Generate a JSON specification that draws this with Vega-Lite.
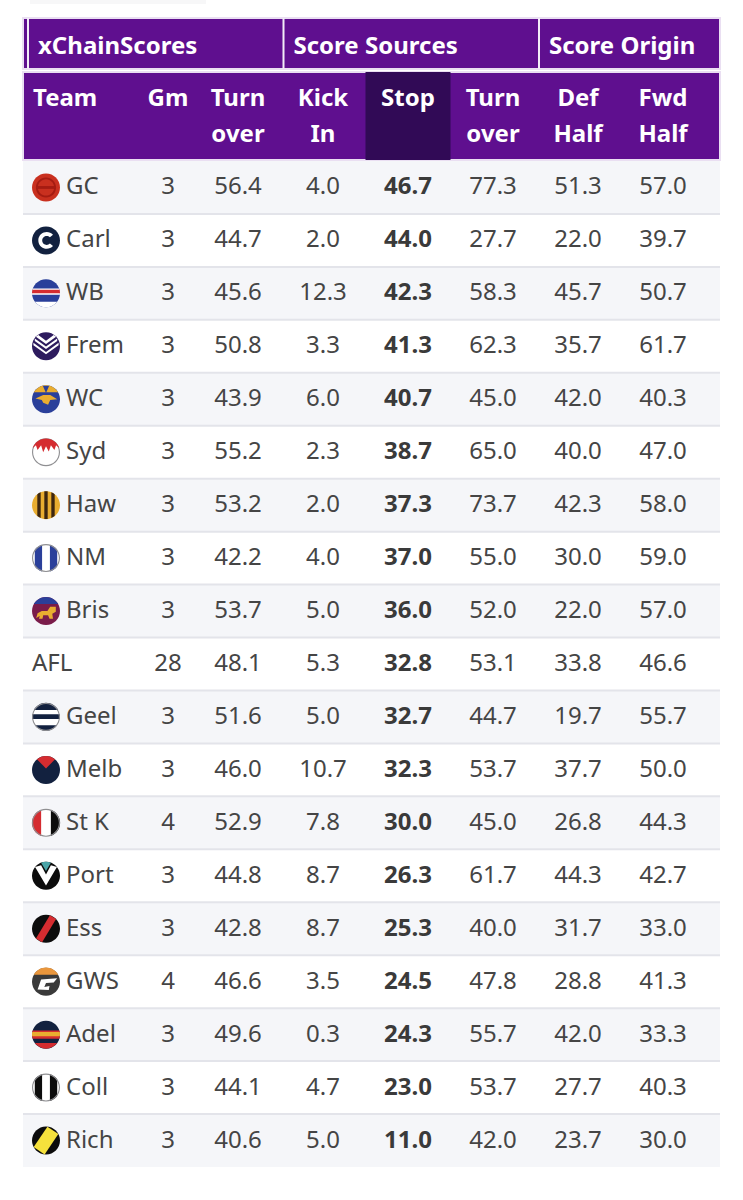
{
  "$schema": "https://vega.github.io/schema/vega-lite/v6.json",
  "padding": {"left": 22, "right": 23, "top": 0, "bottom": 0},
  "background": "white",
  "spacing": 0,
  "config": {"view": {"stroke": null}, "text": {"font": "Noto Sans", "fontSize": 24, "color": "#454545"}},
  "datasets": {
    "heads": [
      {"col": "Team", "line": "1", "label": "Team"},
      {"col": "Gm", "line": "1", "label": "Gm"},
      {"col": "Turnover", "line": "1", "label": "Turn"},
      {"col": "Turnover", "line": "2", "label": "over"},
      {"col": "Kick In", "line": "1", "label": "Kick"},
      {"col": "Kick In", "line": "2", "label": "In"},
      {"col": "Stop", "line": "1", "label": "Stop"},
      {"col": "Sources Turnover", "line": "1", "label": "Turn"},
      {"col": "Sources Turnover", "line": "2", "label": "over"},
      {"col": "Def Half", "line": "1", "label": "Def"},
      {"col": "Def Half", "line": "2", "label": "Half"},
      {"col": "Fwd Half", "line": "1", "label": "Fwd"},
      {"col": "Fwd Half", "line": "2", "label": "Half"}
    ],
    "teams": [
      {"team": "GC", "Gm": 3, "Turnover": 56.4, "Kick In": 4.0, "Stop": 46.7, "Sources Turnover": 77.3, "Def Half": 51.3, "Fwd Half": 57.0},
      {"team": "Carl", "Gm": 3, "Turnover": 44.7, "Kick In": 2.0, "Stop": 44.0, "Sources Turnover": 27.7, "Def Half": 22.0, "Fwd Half": 39.7},
      {"team": "WB", "Gm": 3, "Turnover": 45.6, "Kick In": 12.3, "Stop": 42.3, "Sources Turnover": 58.3, "Def Half": 45.7, "Fwd Half": 50.7},
      {"team": "Frem", "Gm": 3, "Turnover": 50.8, "Kick In": 3.3, "Stop": 41.3, "Sources Turnover": 62.3, "Def Half": 35.7, "Fwd Half": 61.7},
      {"team": "WC", "Gm": 3, "Turnover": 43.9, "Kick In": 6.0, "Stop": 40.7, "Sources Turnover": 45.0, "Def Half": 42.0, "Fwd Half": 40.3},
      {"team": "Syd", "Gm": 3, "Turnover": 55.2, "Kick In": 2.3, "Stop": 38.7, "Sources Turnover": 65.0, "Def Half": 40.0, "Fwd Half": 47.0},
      {"team": "Haw", "Gm": 3, "Turnover": 53.2, "Kick In": 2.0, "Stop": 37.3, "Sources Turnover": 73.7, "Def Half": 42.3, "Fwd Half": 58.0},
      {"team": "NM", "Gm": 3, "Turnover": 42.2, "Kick In": 4.0, "Stop": 37.0, "Sources Turnover": 55.0, "Def Half": 30.0, "Fwd Half": 59.0},
      {"team": "Bris", "Gm": 3, "Turnover": 53.7, "Kick In": 5.0, "Stop": 36.0, "Sources Turnover": 52.0, "Def Half": 22.0, "Fwd Half": 57.0},
      {"team": "AFL", "Gm": 28, "Turnover": 48.1, "Kick In": 5.3, "Stop": 32.8, "Sources Turnover": 53.1, "Def Half": 33.8, "Fwd Half": 46.6},
      {"team": "Geel", "Gm": 3, "Turnover": 51.6, "Kick In": 5.0, "Stop": 32.7, "Sources Turnover": 44.7, "Def Half": 19.7, "Fwd Half": 55.7},
      {"team": "Melb", "Gm": 3, "Turnover": 46.0, "Kick In": 10.7, "Stop": 32.3, "Sources Turnover": 53.7, "Def Half": 37.7, "Fwd Half": 50.0},
      {"team": "St K", "Gm": 4, "Turnover": 52.9, "Kick In": 7.8, "Stop": 30.0, "Sources Turnover": 45.0, "Def Half": 26.8, "Fwd Half": 44.3},
      {"team": "Port", "Gm": 3, "Turnover": 44.8, "Kick In": 8.7, "Stop": 26.3, "Sources Turnover": 61.7, "Def Half": 44.3, "Fwd Half": 42.7},
      {"team": "Ess", "Gm": 3, "Turnover": 42.8, "Kick In": 8.7, "Stop": 25.3, "Sources Turnover": 40.0, "Def Half": 31.7, "Fwd Half": 33.0},
      {"team": "GWS", "Gm": 4, "Turnover": 46.6, "Kick In": 3.5, "Stop": 24.5, "Sources Turnover": 47.8, "Def Half": 28.8, "Fwd Half": 41.3},
      {"team": "Adel", "Gm": 3, "Turnover": 49.6, "Kick In": 0.3, "Stop": 24.3, "Sources Turnover": 55.7, "Def Half": 42.0, "Fwd Half": 33.3},
      {"team": "Coll", "Gm": 3, "Turnover": 44.1, "Kick In": 4.7, "Stop": 23.0, "Sources Turnover": 53.7, "Def Half": 27.7, "Fwd Half": 40.3},
      {"team": "Rich", "Gm": 3, "Turnover": 40.6, "Kick In": 5.0, "Stop": 11.0, "Sources Turnover": 42.0, "Def Half": 23.7, "Fwd Half": 30.0}
    ],
    "logos": [
      {"team": "GC", "part": "disc", "tone": "gc red"},
      {"team": "GC", "part": "ring", "tone": "gc dark"},
      {"team": "GC", "part": "bar", "tone": "gc dark"},
      {"team": "Carl", "part": "disc", "tone": "navy"},
      {"team": "Carl", "part": "c", "tone": "white"},
      {"team": "WB", "part": "disc", "tone": "blue"},
      {"team": "WB", "part": "wide band", "tone": "white"},
      {"team": "WB", "part": "thin band", "tone": "red"},
      {"team": "WB", "part": "low cap", "tone": "white"},
      {"team": "Frem", "part": "disc", "tone": "purple"},
      {"team": "Frem", "part": "chevrons", "tone": "white"},
      {"team": "WC", "part": "disc", "tone": "blue"},
      {"team": "WC", "part": "high cap", "tone": "gold"},
      {"team": "WC", "part": "notch", "tone": "blue"},
      {"team": "WC", "part": "eagle", "tone": "gold"},
      {"team": "Syd", "part": "disc", "tone": "white"},
      {"team": "Syd", "part": "rim", "tone": "grey"},
      {"team": "Syd", "part": "jagged", "tone": "red"},
      {"team": "Haw", "part": "disc", "tone": "gold"},
      {"team": "Haw", "part": "three stripes", "tone": "brown"},
      {"team": "NM", "part": "disc", "tone": "white"},
      {"team": "NM", "part": "two stripes", "tone": "blue"},
      {"team": "NM", "part": "rim", "tone": "grey"},
      {"team": "Bris", "part": "disc", "tone": "maroon"},
      {"team": "Bris", "part": "high cap", "tone": "blue"},
      {"team": "Bris", "part": "lion", "tone": "gold"},
      {"team": "Geel", "part": "disc", "tone": "white"},
      {"team": "Geel", "part": "high cap", "tone": "navy"},
      {"team": "Geel", "part": "mid band", "tone": "navy"},
      {"team": "Geel", "part": "low cap", "tone": "navy"},
      {"team": "Geel", "part": "rim", "tone": "grey"},
      {"team": "Melb", "part": "disc", "tone": "navy"},
      {"team": "Melb", "part": "v top", "tone": "red"},
      {"team": "St K", "part": "disc", "tone": "white"},
      {"team": "St K", "part": "left side", "tone": "red"},
      {"team": "St K", "part": "right side", "tone": "black"},
      {"team": "St K", "part": "rim", "tone": "grey"},
      {"team": "Port", "part": "disc", "tone": "black"},
      {"team": "Port", "part": "big v", "tone": "white"},
      {"team": "Port", "part": "teal top", "tone": "teal"},
      {"team": "Ess", "part": "disc", "tone": "black"},
      {"team": "Ess", "part": "thin sash", "tone": "red"},
      {"team": "GWS", "part": "disc", "tone": "charcoal"},
      {"team": "GWS", "part": "high cap", "tone": "orange"},
      {"team": "GWS", "part": "g", "tone": "white"},
      {"team": "Adel", "part": "disc", "tone": "navy"},
      {"team": "Adel", "part": "centre band", "tone": "red"},
      {"team": "Adel", "part": "thin band low", "tone": "gold"},
      {"team": "Adel", "part": "low cap", "tone": "red"},
      {"team": "Coll", "part": "disc", "tone": "white"},
      {"team": "Coll", "part": "two stripes", "tone": "black"},
      {"team": "Coll", "part": "rim", "tone": "grey"},
      {"team": "Rich", "part": "disc", "tone": "black"},
      {"team": "Rich", "part": "wide sash", "tone": "yellow"}
    ]
  },
  "vconcat": [
    {
      "width": 697,
      "height": 14,
      "data": {"values": [{"row": "strip", "col": "Gm"}]},
      "mark": {"type": "rect", "width": 176, "color": "#f7f7f8", "xOffset": -35},
      "encoding": {
        "x": {"field": "col", "type": "nominal", "axis": null, "scale": {"type": "point", "padding": 0, "domain": ["Team", "Gm"], "range": [45, 130]}},
        "y": {"field": "row", "type": "nominal", "axis": null, "scale": {"type": "band", "padding": 0, "domain": ["strip", "a", "b", "c"], "range": [-2, 14]}}
      }
    },
    {
      "width": 697,
      "height": 51,
      "view": {"fill": "#5f0f8f", "stroke": "#eadff2", "strokeWidth": 2},
      "data": {"values": [{"group": "xChainScores"}, {"group": "Score Sources"}, {"group": "Score Origin"}]},
      "encoding": {
        "x": {"field": "group", "type": "nominal", "axis": null, "scale": {"type": "point", "padding": 0, "domain": ["xChainScores", "Score Sources", "Score Origin"], "range": [15, 526]}}
      },
      "layer": [
        {"mark": {"type": "rule", "color": "#f2ecf7", "strokeWidth": 2, "xOffset": -10}},
        {
          "mark": {"type": "text", "align": "left", "baseline": "middle", "fontWeight": "bold", "fontSize": 24, "color": "white", "dy": 3},
          "encoding": {"text": {"field": "group"}}
        }
      ]
    },
    {
      "width": 697,
      "height": 88,
      "view": {"fill": "#5f0f8f", "stroke": "#eadff2", "strokeWidth": 2},
      "data": {"name": "heads"},
      "encoding": {
        "x": {"field": "col", "type": "nominal", "axis": null, "scale": {"type": "point", "padding": 0, "domain": ["Team", "Gm", "Turnover", "Kick In", "Stop", "Sources Turnover", "Def Half", "Fwd Half"], "range": [45, 640]}},
        "y": {"field": "line", "type": "nominal", "axis": null, "scale": {"type": "point", "padding": 0, "domain": ["1", "2"], "range": [27, 63]}}
      },
      "layer": [
        {
          "transform": [{"filter": "datum.col == 'Stop'"}],
          "mark": {"type": "rect", "width": 85, "color": "#310a56"},
          "encoding": {"y": null}
        },
        {
          "transform": [{"filter": "datum.col == 'Team'"}],
          "mark": {"type": "text", "align": "left", "baseline": "middle", "fontWeight": "bold", "fontSize": 24, "color": "white", "dx": -35},
          "encoding": {"text": {"field": "label"}}
        },
        {
          "transform": [{"filter": "datum.col == 'Gm'"}],
          "mark": {"type": "text", "align": "center", "baseline": "middle", "fontWeight": "bold", "fontSize": 24, "color": "white", "dx": 15},
          "encoding": {"text": {"field": "label"}}
        },
        {
          "transform": [{"filter": "datum.col != 'Team' && datum.col != 'Gm'"}],
          "mark": {"type": "text", "align": "center", "baseline": "middle", "fontWeight": "bold", "fontSize": 24, "color": "white"},
          "encoding": {"text": {"field": "label"}}
        }
      ]
    },
    {
      "width": 697,
      "height": 1006,
      "data": {"name": "teams"},
      "encoding": {
        "y": {"field": "team", "type": "nominal", "axis": null, "scale": {"type": "band", "padding": 0, "domain": ["GC", "Carl", "WB", "Frem", "WC", "Syd", "Haw", "NM", "Bris", "AFL", "Geel", "Melb", "St K", "Port", "Ess", "GWS", "Adel", "Coll", "Rich"]}}
      },
      "layer": [
        {
          "transform": [{"filter": {"field": "team", "oneOf": ["GC", "WB", "WC", "Haw", "Bris", "Geel", "St K", "Ess", "Adel", "Rich"]}}],
          "mark": {"type": "rect", "color": "#f5f6f9"}
        },
        {
          "transform": [{"filter": "datum.team != 'Rich'"}],
          "mark": {"type": "rule", "color": "#e3e4ea", "strokeWidth": 2},
          "encoding": {"y": {"field": "team", "type": "nominal", "axis": null, "bandPosition": 1}}
        },
        {
          "data": {"name": "logos"},
          "mark": {"type": "point", "filled": true, "opacity": 1, "size": 784, "xOffset": -22},
          "encoding": {
            "x": {"datum": "Team", "scale": {"type": "point", "padding": 0, "domain": ["Team", "Gm", "Turnover", "Kick In", "Stop", "Sources Turnover", "Def Half", "Fwd Half"], "range": [45, 640]}, "axis": null},
            "shape": {
              "field": "part", "type": "nominal", "legend": null,
              "scale": {
                "domain": ["disc", "rim", "ring", "bar", "c", "wide band", "thin band", "low cap", "chevrons", "high cap", "notch", "eagle", "jagged", "three stripes", "two stripes", "lion", "mid band", "v top", "left side", "right side", "big v", "teal top", "thin sash", "g", "centre band", "thin band low", "wide sash"],
                "range": [
                  "M-1 0A1 1 0 1 1 1 0A1 1 0 1 1 -1 0Z",
                  "M-1 0A1 1 0 1 1 1 0A1 1 0 1 1 -1 0ZM-0.92 0A0.92 0.92 0 1 0 0.92 0A0.92 0.92 0 1 0 -0.92 0Z",
                  "M-0.72 0A0.72 0.72 0 1 1 0.72 0A0.72 0.72 0 1 1 -0.72 0ZM-0.58 0A0.58 0.58 0 1 0 0.58 0A0.58 0.58 0 1 0 -0.58 0Z",
                  "M-0.6 -0.1L0.6 -0.1L0.6 0.1L-0.6 0.1Z",
                  "M0.5 -0.4A0.6 0.6 0 1 0 0.5 0.4L0.28 0.22A0.32 0.32 0 1 1 0.28 -0.22Z",
                  "M-0.94 -0.35L0.94 -0.35A1 1 0 0 1 0.995 0.1L-0.995 0.1A1 1 0 0 1 -0.94 -0.35Z",
                  "M-0.97 -0.25L0.97 -0.25A1 1 0 0 1 1 0L-1 0A1 1 0 0 1 -0.97 -0.25Z",
                  "M0.8 0.6A1 1 0 0 1 -0.8 0.6Z",
                  "M-0.8 -0.55L0 0.02L0.8 -0.55L0.8 -0.38L0 0.2L-0.8 -0.38ZM-0.55 -0.8L0 -0.4L0.55 -0.8L0.72 -0.68L0 -0.16L-0.72 -0.68ZM-0.9 -0.25L0 0.4L0.9 -0.25L0.9 -0.08L0 0.56L-0.9 -0.08Z",
                  "M-0.87 -0.5A1 1 0 0 1 0.87 -0.5Z",
                  "M-0.22 -0.95L0.22 -0.95L0 -0.45Z",
                  "M-0.75 -0.05L-0.2 -0.3L0.3 -0.3L0.8 0L0.3 0.05L0.15 0.4L-0.2 0.25L-0.3 0.05Z",
                  "M-0.95 -0.3A1 1 0 0 1 0.95 -0.3L0.72 -0.5L0.6 -0.15L0.35 -0.5L0.2 -0.05L0 -0.42L-0.2 0L-0.35 -0.5L-0.6 -0.15L-0.72 -0.5Z",
                  "M-0.62 -0.78A1 1 0 0 1 -0.38 -0.92L-0.38 0.92A1 1 0 0 1 -0.62 0.78ZM-0.12 -0.99A1 1 0 0 1 0.12 -0.99L0.12 0.99A1 1 0 0 1 -0.12 0.99ZM0.38 -0.92A1 1 0 0 1 0.62 -0.78L0.62 0.78A1 1 0 0 1 0.38 0.92Z",
                  "M-0.8 -0.6A1 1 0 0 1 -0.28 -0.96L-0.28 0.96A1 1 0 0 1 -0.8 0.6ZM0.28 -0.96A1 1 0 0 1 0.8 -0.6L0.8 0.6A1 1 0 0 1 0.28 0.96Z",
                  "M-0.7 0.5L-0.6 0.15L-0.3 0L0.1 0L0.3 -0.3L0.7 -0.3L0.7 0.05L0.45 0.2L0.5 0.55L0.25 0.55L0.15 0.3L-0.2 0.3L-0.25 0.55L-0.5 0.55L-0.45 0.35Z",
                  "M-0.98 -0.2L0.98 -0.2A1 1 0 0 1 0.99 0.15L-0.99 0.15A1 1 0 0 1 -0.98 -0.2Z",
                  "M-0.65 -0.76A1 1 0 0 1 0.65 -0.76L0 -0.1Z",
                  "M-0.35 -0.94A1 1 0 0 0 -0.35 0.94Z",
                  "M0.35 -0.94A1 1 0 0 1 0.35 0.94Z",
                  "M-0.78 -0.62L-0.35 -0.75L0 -0.1L0.35 -0.75L0.78 -0.62L0 0.7Z",
                  "M-0.35 -0.94A1 1 0 0 1 0.35 -0.94L0 -0.35Z",
                  "M0.28 -0.96L0.72 -0.69L-0.28 0.96L-0.72 0.69Z",
                  "M-0.6 0.55L-0.35 -0.15L0.8 -0.25L0.55 0.05L0 0.1L-0.12 0.38L0.25 0.3L0.2 0.6Z",
                  "M-0.95 -0.3L0.95 -0.3A1 1 0 0 1 0.95 0.3L-0.95 0.3A1 1 0 0 1 -0.95 -0.3Z",
                  "M-0.99 -0.18L0.99 -0.18A1 1 0 0 1 0.99 0.12L-0.99 0.12A1 1 0 0 1 -0.99 -0.18Z",
                  "M0.1 -0.99L0.88 -0.47L-0.1 0.99L-0.88 0.47Z"
                ]
              }
            },
            "color": {
              "field": "tone", "type": "nominal", "legend": null,
              "scale": {
                "domain": ["gc red", "gc dark", "navy", "white", "blue", "red", "purple", "gold", "grey", "brown", "maroon", "black", "teal", "charcoal", "orange", "yellow"],
                "range": ["#c9301f", "#a51c12", "#12213f", "#ffffff", "#2a3f9a", "#d52c30", "#2d1b5e", "#e9ad30", "#8f8f92", "#3d2610", "#7a1c4a", "#0c0c0c", "#4aa5a8", "#3a3a3a", "#e9963c", "#f5e13c"]
              }
            }
          }
        },
        {
          "transform": [{"filter": "datum.team != 'AFL'"}],
          "mark": {"type": "text", "align": "left", "baseline": "middle", "dx": -2},
          "encoding": {"x": {"datum": "Team", "axis": null}, "text": {"field": "team"}}
        },
        {
          "transform": [{"filter": "datum.team == 'AFL'"}],
          "mark": {"type": "text", "align": "left", "baseline": "middle", "dx": -36},
          "encoding": {"x": {"datum": "Team", "axis": null}, "text": {"field": "team"}}
        },
        {
          "mark": {"type": "text", "align": "center", "baseline": "middle", "dx": 15},
          "encoding": {"x": {"datum": "Gm", "axis": null}, "text": {"field": "Gm", "type": "quantitative"}}
        },
        {
          "transform": [
            {"fold": ["Turnover", "Kick In", "Stop", "Sources Turnover", "Def Half", "Fwd Half"], "as": ["col", "value"]},
            {"filter": "datum.col != 'Stop'"}
          ],
          "mark": {"type": "text", "align": "center", "baseline": "middle"},
          "encoding": {"x": {"field": "col", "type": "nominal", "axis": null}, "text": {"field": "value", "type": "quantitative", "format": ".1f"}}
        },
        {
          "mark": {"type": "text", "align": "center", "baseline": "middle", "fontWeight": "bold", "color": "#3a3a3a"},
          "encoding": {"x": {"datum": "Stop", "axis": null}, "text": {"field": "Stop", "type": "quantitative", "format": ".1f"}}
        }
      ]
    }
  ]
}
